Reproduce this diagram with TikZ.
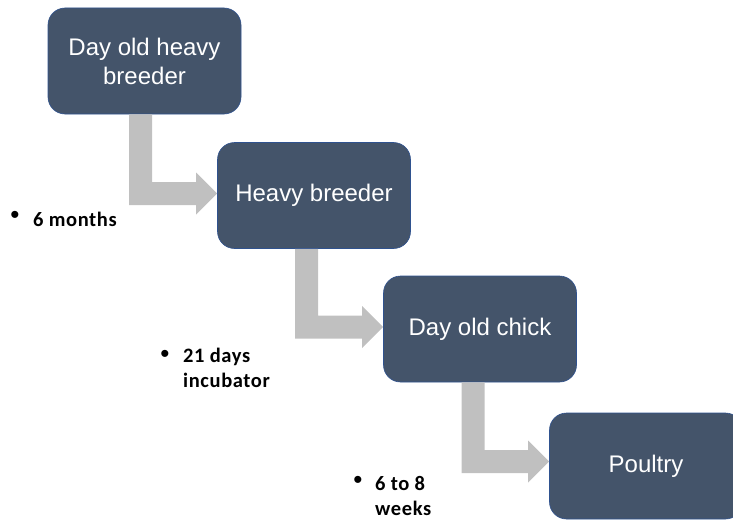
\documentclass[tikz,border=0pt]{standalone}
\usepackage{fontspec}
\setmainfont{Liberation Sans}
\newfontfamily\labfont[LetterSpace=3]{Carlito}
\usetikzlibrary{calc}
\definecolor{boxfill}{RGB}{68,84,106}
\definecolor{boxline}{RGB}{47,82,143}
\definecolor{arrowgray}{RGB}{192,192,192}
\tikzset{
  stagebox/.style={draw=boxline, line width=0.6pt, fill=boxfill, rounded corners=17pt,
    minimum width=193pt, minimum height=106pt, inner sep=0pt, text=white,
    align=center, font=\fontsize{24}{29}\selectfont},
  bulletdot/.style={inner sep=0pt, font=\fontsize{26}{26}\selectfont},
  steplabel/.style={inner sep=0pt, anchor=base west, font=\labfont\bfseries\fontsize{20.5}{25}\selectfont},
}
\newcommand{\bentarrow}[4]{%
  \fill[arrowgray] let \p1=($(#1.south)+(#3,0)$), \p2=($(#2.west)+(0,#4)$) in
    (\x1-11.5pt,\y1) -- (\x1+11.5pt,\y1) -- (\x1+11.5pt,\y2+11.5pt) -- (\x2-21pt,\y2+11.5pt)
    -- (\x2-21pt,\y2+21pt) -- (\x2,\y2) -- (\x2-21pt,\y2-21pt) -- (\x2-21pt,\y2-11.5pt)
    -- (\x1-11.5pt,\y2-11.5pt) -- cycle;}
\begin{document}
\begin{tikzpicture}[x=1pt,y=-1pt]
\useasboundingbox (0,0) rectangle (733,519);
\clip (0,0) rectangle (733,519);
\node[stagebox] (b1) at (144.5,61) {Day old heavy\\breeder};
\node[stagebox] (b2) at (314,195.5) {Heavy breeder};
\node[stagebox] (b3) at (480,329) {Day old chick};
\node[stagebox] (b4) at (646,466) {Poultry};
\bentarrow{b1}{b2}{-4}{-2}
\bentarrow{b2}{b3}{-7.5}{-2}
\bentarrow{b3}{b4}{-7}{-4.5}
\node[bulletdot] (d1) at (15,217) {•};
\node[steplabel] (l1) at (33,226) {6 months};
\node[bulletdot] (d2) at (165,356) {•};
\node[steplabel] (l2) at (183,362) {\begin{tabular}[t]{@{}l@{}}21 days\\incubator\end{tabular}};
\node[bulletdot] (d3) at (358,482) {•};
\node[steplabel] (l3) at (375,490) {\begin{tabular}[t]{@{}l@{}}6 to 8\\weeks\end{tabular}};
\end{tikzpicture}
\end{document}
